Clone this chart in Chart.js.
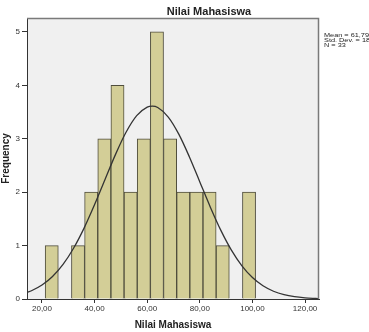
<!DOCTYPE html>
<html>
<head>
<meta charset="utf-8">
<title>Nilai Mahasiswa</title>
<script src="https://cdn.jsdelivr.net/npm/chart.js@4.4.0/dist/chart.umd.min.js"></script>
<style>
  html, body { margin: 0; padding: 0; background: #fff; }
  canvas { display: block; }
</style>
</head>
<body>
<canvas id="histChart" width="369" height="332"></canvas>
<script>
/**
 * Histogram data (bin width 5)
 */
const binCenters = [23.7, 28.7, 33.7, 38.7, 43.7, 48.7, 53.7, 58.7, 63.7, 68.7, 73.7, 78.7, 83.7, 88.7, 93.7, 98.7];
const frequencies = [1, 0, 1, 2, 3, 4, 2, 3, 5, 3, 2, 2, 2, 1, 0, 2];

// normal curve
const curveX = [14.3, 16, 20, 24, 28, 32, 36, 40, 44, 48, 52, 56, 60, 62, 64, 68, 72, 76, 80, 84, 88, 92, 96, 100, 104, 108, 112, 116, 120, 124, 125.3];
const curveY = [0.121, 0.154, 0.261, 0.421, 0.648, 0.950, 1.327, 1.767, 2.242, 2.712, 3.125, 3.432, 3.593, 3.610, 3.584, 3.406, 3.086, 2.664, 2.192, 1.719, 1.284, 0.914, 0.621, 0.401, 0.247, 0.145, 0.081, 0.043, 0.022, 0.011, 0.008];

const xTicks = [20, 40, 60, 80, 100, 120];
const xTickLabels = ['20,00', '40,00', '60,00', '80,00', '100,00', '120,00'];
const yTicks = [0, 1, 2, 3, 4, 5];

const chartTitle = 'Nilai Mahasiswa';
const statLines = ['Mean = 61,79', 'Std. Dev. = 18,234', 'N = 33'];

const FONT = '"Liberation Sans", Arial, sans-serif';

let histChart = null;

/**
 * Plot background, frame, title and stats box
 */
const spssDecor = {
  id: 'spssDecor',
  beforeDraw(chart) {
    const { ctx, chartArea: a } = chart;
    ctx.save();
    ctx.fillStyle = '#f0f0f0';
    ctx.fillRect(a.left, a.top, a.right - a.left, a.bottom - a.top);
    ctx.restore();
  },
  afterDraw(chart) {
    const { ctx, chartArea: a } = chart;
    ctx.save();
    // top / right frame
    ctx.strokeStyle = '#7a7a7a';
    ctx.lineWidth = 1.5;
    ctx.beginPath();
    ctx.moveTo(a.left, a.top + 0.5);
    ctx.lineTo(a.right - 0.5, a.top + 0.5);
    ctx.lineTo(a.right - 0.5, a.bottom);
    ctx.stroke();

    // title
    ctx.fillStyle = '#222';
    ctx.font = 'bold 11px ' + FONT;
    ctx.textAlign = 'center';
    ctx.textBaseline = 'middle';
    ctx.fillText(chartTitle, 209, 12);

    // stats (text is a bit stretched sideways in the original)
    ctx.font = '6px ' + FONT;
    ctx.textAlign = 'left';
    ctx.translate(324, 0);
    ctx.scale(1.22, 1);
    statLines.forEach((line, i) => {
      ctx.fillText(line, 0, 35.7 + i * 4.6);
    });
    ctx.restore();
  }
};

/**
 * 초기화
 */
function init() {
  const ctx = document.getElementById('histChart').getContext('2d');

  histChart = new Chart(ctx, {
    type: 'bar',
    data: {
      datasets: [
        {
          type: 'line',
          data: curveX.map((x, i) => ({ x, y: curveY[i] })),
          borderColor: '#333',
          borderWidth: 1.3,
          pointRadius: 0,
          cubicInterpolationMode: 'monotone',
          fill: false,
          order: 0
        },
        {
          type: 'bar',
          data: binCenters.map((x, i) => ({ x, y: frequencies[i] })),
          backgroundColor: '#d3ce97',
          borderColor: '#4f4d3c',
          borderWidth: 1,
          barPercentage: 1,
          categoryPercentage: 1,
          grouped: false,
          order: 1
        }
      ]
    },
    options: {
      responsive: false,
      animation: false,
      layout: {
        padding: { left: 0, top: 18, right: 50, bottom: 0 }
      },
      plugins: {
        legend: { display: false },
        tooltip: { enabled: false }
      },
      scales: {
        x: {
          type: 'linear',
          min: 14.3,
          max: 125.3,
          offset: false,
          afterFit: s => { s.height = 33; },
          afterBuildTicks: s => { s.ticks = xTicks.map(v => ({ value: v })); },
          ticks: {
            autoSkip: false,
            maxRotation: 0,
            padding: 1,
            color: '#333',
            font: { family: FONT, size: 8 },
            callback: v => xTickLabels[xTicks.indexOf(v)]
          },
          grid: {
            drawOnChartArea: false,
            offset: false,
            tickLength: 4,
            color: '#333'
          },
          border: { color: '#333' },
          title: {
            display: true,
            text: 'Nilai Mahasiswa',
            color: '#222',
            font: { family: FONT, size: 10, weight: 'bold' },
            padding: { top: 0, bottom: 1 }
          }
        },
        y: {
          min: 0,
          max: 5.26,
          afterFit: s => { s.width = 27; },
          afterBuildTicks: s => { s.ticks = yTicks.map(v => ({ value: v })); },
          ticks: {
            padding: 2,
            color: '#333',
            font: { family: FONT, size: 8 }
          },
          grid: {
            drawOnChartArea: false,
            tickLength: 5,
            color: '#333'
          },
          border: { color: '#333' },
          title: {
            display: true,
            text: 'Frequency',
            color: '#222',
            font: { family: FONT, size: 10, weight: 'bold' },
            padding: { top: 0, bottom: 0 }
          }
        }
      }
    },
    plugins: [spssDecor]
  });
}

document.addEventListener('DOMContentLoaded', init);
</script>
</body>
</html>
